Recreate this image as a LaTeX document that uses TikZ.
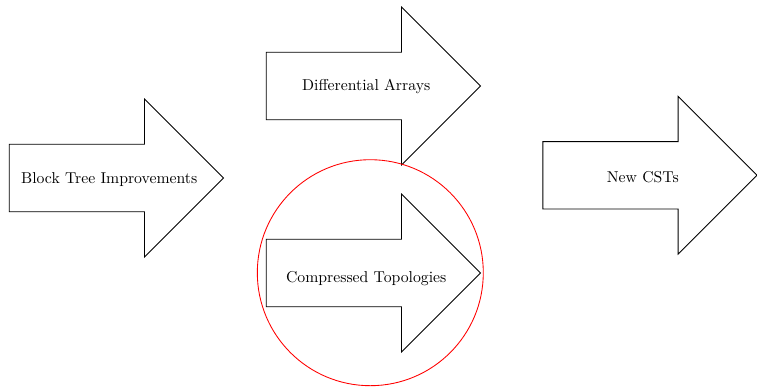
\documentclass[tikz,border=0pt]{standalone}
\usepackage{tikz}
\usetikzlibrary{shapes.arrows, shapes.geometric, positioning}
\tikzstyle{bigarrow} = [single arrow, draw=black, line width=0.55pt, text centered, minimum height=136pt, minimum width=100pt, single arrow head extend=28.7pt, single arrow tip angle=90, text height=7.7pt, text depth=1.35pt, inner ysep=16.6pt, inner xsep=1pt, execute at begin node={\hspace*{6.2pt}}, execute at end node={\hspace*{-6.2pt}}]
\tikzstyle{highlight} = [circle, draw=red, line width=0.55pt, minimum size=143.5pt, inner sep=0pt]

\begin{document}
\begin{tikzpicture}[x=0.635pt, y=-0.635pt]
        \useasboundingbox (0,0) rectangle (757,386);
        % Nodes
        \node (blocktree) [bigarrow, anchor=tip] at (224,178) {Block Tree Improvements};
        \node (diffarrays) [bigarrow, anchor=tip] at (481,86) {Differential Arrays};
        \node (comptopo) [bigarrow, anchor=tip, text height=12.3pt, text depth=0pt, inner ysep=14.975pt] at (481,273) {Compressed Topologies};
        \node (newcsts) [bigarrow, anchor=tip, text height=9pt, text depth=0.05pt] at (757.6,175.3) {New CSTs};

        % Mark the topologies arrow
        \node (focus) [highlight] at (370.3,272.7) {};
    \end{tikzpicture}
\end{document}
